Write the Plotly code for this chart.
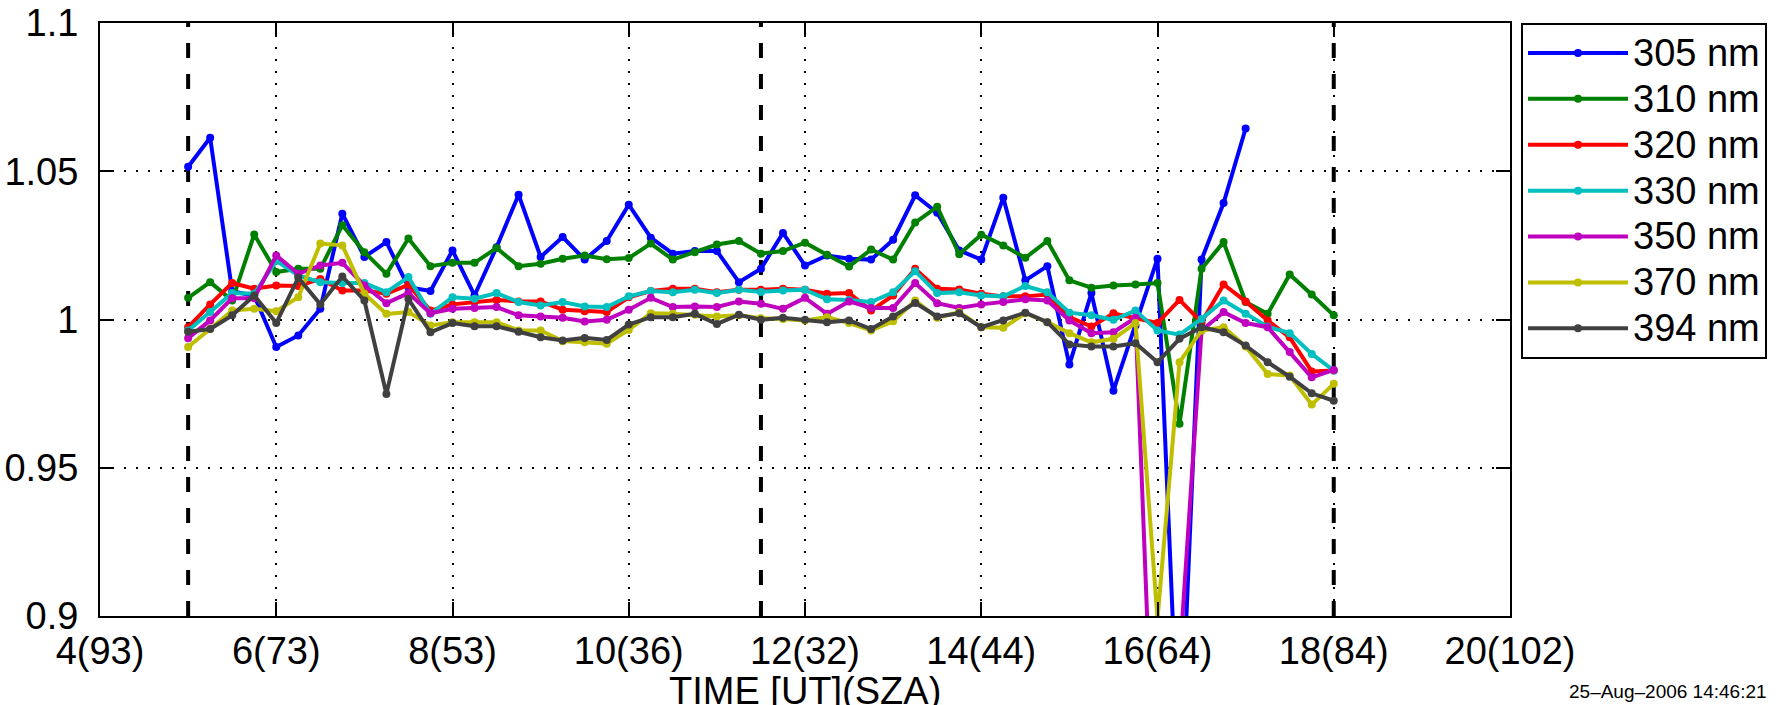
import plotly.graph_objects as go

# ---- data -------------------------------------------------------------
time_ut = [5.0, 5.25, 5.5, 5.75, 6.0, 6.25, 6.5, 6.75, 7.0, 7.25, 7.5, 7.75,
           8.0, 8.25, 8.5, 8.75, 9.0, 9.25, 9.5, 9.75, 10.0, 10.25, 10.5, 10.75,
           11.0, 11.25, 11.5, 11.75, 12.0, 12.25, 12.5, 12.75, 13.0, 13.25, 13.5,
           13.75, 14.0, 14.25, 14.5, 14.75, 15.0, 15.25, 15.5, 15.75, 16.0, 16.25,
           16.5, 16.75, 17.0, 17.25, 17.5, 17.75, 18.0]

nm305 = [1.0515, 1.0613, 1.0095, 1.0080, 0.9907, 0.9946, 1.0036, 1.0357, 1.0211, 1.0261, 1.0109, 1.0096,
         1.0233, 1.0081, 1.0244, 1.0421, 1.0211, 1.0278, 1.0202, 1.0265, 1.0387, 1.0276, 1.0222, 1.0231,
         1.0231, 1.0126, 1.0171, 1.0292, 1.0182, 1.0216, 1.0205, 1.0202, 1.0269, 1.0419, 1.0360,
         1.0233, 1.0202, 1.0411, 1.0132, 1.0180, 0.9848, 1.0089, 0.9760, 0.9980, 1.0205, 0.8450,
         1.0202, 1.0393, 1.0644, None, None, None, None]
nm310 = [1.0073, 1.0126, 1.0064, 1.0287, 1.0160, 1.0171, 1.0171, 1.0318, 1.0227, 1.0154, 1.0273, 1.0180,
         1.0191, 1.0191, 1.0241, 1.0180, 1.0188, 1.0205, 1.0216, 1.0203, 1.0207, 1.0256, 1.0202, 1.0227,
         1.0253, 1.0265, 1.0222, 1.0231, 1.0259, 1.0218, 1.0179, 1.0236, 1.0202, 1.0327, 1.0380,
         1.0220, 1.0286, 1.0250, 1.0208, 1.0265, 1.0132, 1.0107, 1.0115, 1.0118, 1.0123, 0.9648,
         1.0171, 1.0261, 1.0059, 1.0019, 1.0152, 1.0084, 1.0014]
nm320 = [0.9974, 1.0051, 1.0123, 1.0104, 1.0115, 1.0113, 1.0137, 1.0098, 1.0098, 1.0087, 1.0117, 1.0030,
         1.0051, 1.0059, 1.0066, 1.0061, 1.0061, 1.0033, 1.0028, 1.0025, 1.0075, 1.0096, 1.0104, 1.0104,
         1.0092, 1.0100, 1.0100, 1.0104, 1.0100, 1.0087, 1.0089, 1.0030, 1.0081, 1.0171, 1.0104,
         1.0101, 1.0087, 1.0078, 1.0078, 1.0084, 1.0008, 0.9976, 1.0021, 1.0006, 0.9988, 1.0066,
         0.9991, 1.0118, 1.0061, 0.9997, 0.9940, 0.9825, 0.9828]
nm330 = [0.9963, 1.0025, 1.0089, 1.0087, 1.0198, 1.0149, 1.0126, 1.0123, 1.0123, 1.0092, 1.0143, 1.0019,
         1.0075, 1.0070, 1.0089, 1.0059, 1.0047, 1.0059, 1.0044, 1.0042, 1.0078, 1.0096, 1.0092, 1.0100,
         1.0089, 1.0100, 1.0093, 1.0098, 1.0100, 1.0068, 1.0066, 1.0059, 1.0092, 1.0163, 1.0089,
         1.0092, 1.0081, 1.0078, 1.0113, 1.0092, 1.0023, 1.0014, 0.9999, 1.0030, 0.9963, 0.9949,
         1.0002, 1.0064, 1.0019, 0.9976, 0.9954, 0.9884, 0.9828]
nm350 = [0.9937, 0.9997, 1.0072, 1.0072, 1.0216, 1.0154, 1.0182, 1.0191, 1.0115, 1.0055, 1.0089, 1.0021,
         1.0036, 1.0039, 1.0042, 1.0014, 1.0010, 1.0006, 0.9993, 0.9999, 1.0033, 1.0073, 1.0042, 1.0044,
         1.0042, 1.0061, 1.0053, 1.0036, 1.0073, 1.0019, 1.0061, 1.0039, 1.0039, 1.0123, 1.0055,
         1.0039, 1.0051, 1.0059, 1.0068, 1.0064, 0.9997, 0.9954, 0.9957, 1.0006, 0.8100, 0.8850,
         0.9963, 1.0025, 0.9988, 0.9974, 0.9890, 0.9805, 0.9830]
nm370 = [0.9907, 0.9968, 1.0030, 1.0036, 1.0028, 1.0075, 1.0256, 1.0250, 1.0087, 1.0019, 1.0025, 0.9980,
         0.9991, 0.9991, 0.9991, 0.9963, 0.9963, 0.9927, 0.9923, 0.9918, 0.9965, 1.0021, 1.0019, 1.0016,
         1.0010, 1.0014, 1.0004, 1.0002, 0.9997, 1.0008, 0.9988, 0.9963, 0.9994, 1.0064, 1.0006,
         1.0025, 0.9974, 0.9972, 1.0021, 0.9991, 0.9954, 0.9923, 0.9935, 0.9988, 0.8990, 0.9856,
         0.9963, 0.9974, 0.9909, 0.9816, 0.9811, 0.9713, 0.9783]
nm394 = [0.9959, 0.9968, 1.0014, 1.0081, 0.9988, 1.0141, 1.0051, 1.0145, 1.0064, 0.9749, 1.0069, 0.9957,
         0.9988, 0.9977, 0.9977, 0.9959, 0.9940, 0.9929, 0.9938, 0.9931, 0.9983, 1.0008, 1.0008, 1.0019,
         0.9985, 1.0016, 0.9999, 1.0006, 0.9999, 0.9991, 0.9997, 0.9968, 1.0010, 1.0056, 1.0010,
         1.0021, 0.9974, 0.9997, 1.0023, 0.9991, 0.9916, 0.9909, 0.9909, 0.9920, 0.9856, 0.9935,
         0.9974, 0.9957, 0.9912, 0.9856, 0.9807, 0.9751, 0.9726]

series_names = ["305 nm", "310 nm", "320 nm", "330 nm", "350 nm", "370 nm", "394 nm"]
series_values = [nm305, nm310, nm320, nm330, nm350, nm370, nm394]
series_colors = ["#0000FF", "#008000", "#FF0000", "#00BFBF", "#BF00BF", "#BFBF00", "#404040"]

dashed_times = [5.0, 11.5, 18.0]

x_tick_vals = [4, 6, 8, 10, 12, 14, 16, 18, 20]
x_tick_text = ["4(93)", "6(73)", "8(53)", "10(36)", "12(32)", "14(44)", "16(64)", "18(84)", "20(102)"]
y_tick_vals = [0.9, 0.95, 1.0, 1.05, 1.1]
y_tick_text = ["0.9", "0.95", "1", "1.05", "1.1"]

x_title = "TIME [UT](SZA)"
stamp_text = "25\u2013Aug\u20132006 14:46:21"

# ---- figure -----------------------------------------------------------
FONT = "Liberation Sans, Arial, Helvetica, sans-serif"
W, H = 1784, 705
ML, MR, MT, MB = 100, 274, 23, 89

fig = go.Figure()
for name, vals, col in zip(series_names, series_values, series_colors):
    fig.add_trace(go.Scatter(
        x=time_ut, y=vals, name='<span style="font-size:38px">' + name + '</span>',
        mode="lines+markers",
        line=dict(color=col, width=4),
        marker=dict(color=col, size=8),
        connectgaps=False,
    ))

for t in dashed_times:
    fig.add_vline(x=t, line=dict(color="black", width=4, dash="15px,16px"), layer="below")

axis_common = dict(
    showline=True, linecolor="black", linewidth=2, mirror="ticks",
    ticks="inside", ticklen=14, tickwidth=2, tickcolor="black",
    showgrid=True, gridcolor="black", gridwidth=1.5, griddash="2px,10px",
    zeroline=False, tickfont=dict(family=FONT, size=38, color="black"),
)

fig.update_xaxes(range=[4, 20], tickmode="array", tickvals=x_tick_vals, ticktext=x_tick_text,
                 automargin=False, **axis_common)
fig.update_yaxes(range=[0.9, 1.1], tickmode="array", tickvals=y_tick_vals, ticktext=y_tick_text,
                 ticklabelstandoff=12, automargin=False, **axis_common)

plot_w = W - ML - MR
plot_h = H - MT - MB

# x-axis title (partly cut by the lower page edge, as in the original)
fig.add_annotation(
    text=x_title, xref="paper", yref="paper",
    x=0.5, y=-(668 - (H - MB)) / plot_h,
    xanchor="center", yanchor="top", showarrow=False,
    font=dict(family=FONT, size=38, color="black"),
)

fig.add_annotation(
    text=stamp_text, xref="paper", yref="paper",
    x=(1769 - ML) / plot_w, y=-(691 - (H - MB)) / plot_h,
    xanchor="right", yanchor="middle", showarrow=False,
    font=dict(family=FONT, size=19, color="black"),
)

fig.update_layout(
    width=W, height=H,
    margin=dict(l=ML, r=MR, t=MT, b=MB, autoexpand=False),
    paper_bgcolor="white", plot_bgcolor="white",
    font=dict(family=FONT, color="black"),
    showlegend=True,
    legend=dict(
        x=(1521 - ML) / plot_w, y=1.0, xanchor="left", yanchor="top",
        bgcolor="white", bordercolor="black", borderwidth=2,
        font=dict(family=FONT, size=33, color="black"),
        itemwidth=100,
    ),
)

fig.write_html("out.html")
